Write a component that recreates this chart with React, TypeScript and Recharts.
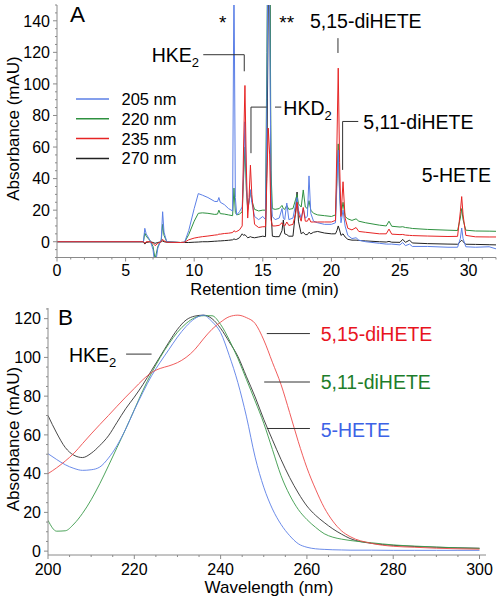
import React from 'react';
import { LineChart, Line, XAxis, YAxis, ReferenceLine } from 'recharts';

// Panel A: HPLC trace, retention time (min) vs absorbance (mAU)
const retentionTimes = [
  0, 6.3, 6.4, 6.5, 6.8, 7.0, 7.15, 7.35, 7.6, 7.7,
  7.8, 8.0, 9.0, 9.3, 9.6, 10.0, 10.3, 10.6, 11.0, 11.5,
  11.7, 11.8, 11.9, 12.2, 12.5, 12.8, 12.9, 13.0, 13.1, 13.3,
  13.5, 13.6, 13.7, 13.8, 13.9, 14.0, 14.1, 14.2, 14.4, 14.7,
  15.0, 15.2, 15.3, 15.4, 15.5, 15.6, 15.7, 15.9, 16.2, 16.4,
  16.5, 16.6, 16.75, 16.9, 17.2, 17.4, 17.5, 17.6, 17.8, 17.95,
  18.1, 18.25, 18.37, 18.5, 18.7, 19.0, 19.5, 20.0, 20.3, 20.4,
  20.5, 20.6, 20.7, 20.85, 21.0, 21.2, 21.5, 21.8, 22.0, 22.5,
  23.5, 24.0, 24.2, 24.4, 25.0, 25.2, 25.4, 25.7, 25.9, 27.0,
  28.5, 29.2, 29.4, 29.5, 29.6, 29.8, 30.5, 31.5, 32,
];
const abs205 = [
  0, 0, 8.5, 5, 0.5, -5, -16, -4, 1.5, 19,
  6, 0, -0.5, -0.3, 7, 21, 30.5, 29.5, 28, 25.5,
  25.5, 28, 25, 23.5, 21, 19.5, 170, 28, 17, 19,
  22, 45, 76, 38, 20, 25, 33, 25, 16, 14,
  16, 14, 90, 220, 150, 30, 16, 14, 15, 21,
  15, 14, 24.5, 14, 15, 24, 28, 20, 15, 21,
  15, 16, 41.7, 18, 13, 12, 11, 11, 12, 35,
  58, 30, 12, 20, 10, 4, 2, 2.5, 1, 0,
  -1, -1.5, -1.5, -1.5, -2, -0.5, -2.5, -1.5, -3, -3,
  -3.5, -3.5, 2, 8.7, 2, -3.2, -3.5, -3.2, -4.5,
];
const abs220 = [
  0, 0, 5.5, 3.5, 0.5, -3, -11, -3, 1, 11,
  4, 0, -0.5, -0.3, 4.5, 13, 18, 18.3, 18, 17.3,
  17.5, 20, 17.8, 17.5, 17, 16.5, 34, 18.5, 17, 17.5,
  19, 40, 60, 33, 21, 26, 32, 26, 20.5, 19.5,
  20, 20, 120, 240, 220, 45, 21, 20.5, 21, 23,
  21, 20.5, 23, 20.5, 21, 27, 30, 24, 22, 32.8,
  22, 21, 26, 20, 18, 17, 16.5, 16, 17, 40,
  62, 32, 17, 25, 16, 14.5, 13.5, 14.5, 13, 12,
  10.5, 10, 13, 9.8, 9.3, 9.5, 9, 8.7, 8.4, 7.8,
  7.3, 7.1, 15, 21, 14, 7.3, 6.8, 6.7, 6.6,
];
const abs235 = [
  0, 0, -1, 0, 0, -1, -2.5, -1, 0, 1.5,
  0.5, -0.3, -0.5, -0.3, 1.2, 2.3, 2.8, 3.2, 3.6, 4.2,
  4.4, 4.8, 4.8, 5.2, 5.4, 5.8, 7, 6.3, 6.5, 7.5,
  10, 60, 99, 48, 15, 28, 48.5, 30, 11, 9,
  9.5, 9.5, 40, 72, 55, 14, 10, 10, 10.4, 12,
  10.5, 10, 12.5, 10.3, 11, 18, 25, 18, 13, 21.7,
  13, 13, 15, 12.5, 12.5, 12.5, 12.5, 12.5, 13.5, 60,
  110, 50, 16, 38, 15, 8.5, 7.5, 9, 6.5, 6,
  5, 5, 8, 4.8, 4.5, 4.6, 4.2, 4, 3.9, 3.6,
  3.3, 3.4, 19, 28.6, 17, 4, 3.1, 3, 3,
];
const abs270 = [
  0, 0, -1.5, -0.5, 0, -0.5, -1, -0.5, 0, 0.5,
  0, -0.3, -0.5, -0.5, -0.5, -0.3, -0.2, 0, 0, 0.3,
  0.4, 0.5, 0.5, 0.7, 0.9, 1.2, 1.8, 1.4, 1.5, 2.5,
  5, 4, 4.5, 3.5, 2.5, 2.8, 3.2, 2.8, 2.5, 3,
  3.5, 3.2, 50, 150, 200, 20, 3.5, 3.2, 3.2, 7,
  13.8, 5, 4.5, 3.5, 3.5, 20, 31.5, 13, 5, 6,
  4.5, 4.5, 6, 5, 6, 6.5, 5.5, 5, 5, 7,
  10, 7.4, 4, 5, 3, 1.5, 1, 1, 0.8, 0.5,
  0, -0.2, 0.2, -0.3, -0.4, 1.5, -0.4, 1, -0.8, -1.2,
  -1.5, -1.6, 0, 1, 0, -1.6, -1.7, -1.9, -2,
];

// Panel B: UV spectra, wavelength (nm) vs absorbance (mAU)
const wavelengths = [
  200, 202, 204, 206, 208, 210, 212, 214, 216, 218,
  220, 222, 224, 226, 228, 230, 232, 234, 236, 238,
  240, 242, 244, 246, 248, 250, 252, 254, 256, 258,
  260, 262, 264, 266, 268, 270, 275, 280, 285, 290, 295, 300,
];
const spectrumHKE2 = [
  70, 61, 53.5, 49.5, 48.3, 50.5, 54.5, 59.5, 66.5, 73.5,
  79.5, 86, 93.3, 100.5, 107.8, 114.5, 119.3, 121.3, 121.8, 120,
  115, 108, 100.5, 90, 79.6, 68, 57.5, 47.3, 38, 30,
  23.3, 18.5, 14.8, 11.5, 8.8, 6.5, 4, 3, 2.4, 2, 1.7, 1.5,
];
const spectrum515 = [
  40, 43, 46.5, 50.5, 55.5, 60.5, 65.3, 70, 74.8, 79.5,
  84, 88.5, 92.2, 94.3, 95.6, 97.3, 100, 104, 109.5, 114.5,
  118.2, 121, 121.8, 120.5, 117.5, 109, 97.5, 86, 71.5, 56.5,
  43, 32, 22.5, 15.5, 10.5, 7.5, 4, 2.5, 2, 1.5, 1.2, 1,
];
const spectrum511 = [
  15.9, 10.3, 10.5, 14, 19.5, 26.5, 34.8, 44, 53.5, 63,
  73, 83, 92, 100, 107, 113, 117.5, 120.5, 121.5, 121.5,
  117, 109, 99.5, 88.5, 77.5, 66, 52.5, 39, 29, 21.5,
  16.3, 12.3, 9, 7.2, 6.2, 5.5, 4.3, 3.2, 2.6, 2.1, 1.7, 1.4,
];
const spectrum5 = [
  50.3, 47.3, 44.6, 42.7, 41.7, 42, 43.4, 48, 54.5, 63,
  72.8, 82, 90.5, 97.5, 104, 110.5, 116, 120, 121.8, 118.5,
  112.8, 101, 87, 69.3, 48.5, 33, 21.8, 13.8, 8, 3.8,
  2, 1.2, 0.9, 0.7, 0.6, 0.5, 0.5, 0.4, 0.4, 0.4, 0.4, 0.4,
];

const timeTicks = [0, 5, 10, 15, 20, 25, 30];
const absTicksA = [0, 20, 40, 60, 80, 100, 120, 140];
const waveTicks = [200, 220, 240, 260, 280, 300];
const absTicksB = [0, 20, 40, 60, 80, 100, 120];

const AXIS = '#8a8a8a';
const LEADER = '#333333';
const FONT = '"Liberation Sans", Arial, Helvetica, sans-serif';

const steps = (from: number, to: number, step: number) => {
  const out: number[] = [];
  for (let v = from; v <= to + 1e-9; v += step) out.push(Math.round(v * 100) / 100);
  return out;
};

const chromSeries = [
  { key: 'nm205', name: '205 nm', color: '#5b7fe6', values: abs205 },
  { key: 'nm220', name: '220 nm', color: '#2e9140', values: abs220 },
  { key: 'nm235', name: '235 nm', color: '#e62424', values: abs235 },
  { key: 'nm270', name: '270 nm', color: '#222222', values: abs270 },
];
const drawOrderA = ['nm270', 'nm220', 'nm205', 'nm235'];

const spectra = [
  { key: 'hke2', color: '#333333', values: spectrumHKE2 },
  { key: 'h511', color: '#3a9a4a', values: spectrum511 },
  { key: 'h5', color: '#5b7fe6', values: spectrum5 },
  { key: 'h515', color: '#ee4a4a', values: spectrum515 },
];

const chromData = retentionTimes.map((t, i) => {
  const row: Record<string, number> = { t };
  chromSeries.forEach((s) => { row[s.key] = s.values[i]; });
  return row;
});
const specData = wavelengths.map((w, i) => {
  const row: Record<string, number> = { w };
  spectra.forEach((s) => { row[s.key] = s.values[i]; });
  return row;
});

// leader lines, in data units
const leadersA: [number, number, number, number][] = [
  [10.66, 118.5, 13.65, 118.5],
  [13.65, 118.5, 13.65, 108],
  [14.14, 85.3, 15.28, 85.3],
  [15.89, 85.3, 16.35, 85.3],
  [14.14, 85.3, 14.14, 56.1],
  [20.48, 129, 20.48, 119.6],
  [20.82, 76.2, 21.96, 76.2],
  [20.82, 76.2, 20.82, 45.5],
];
const leadersB: [number, number, number, number][] = [
  [218.1, 101.7, 224, 101.7],
  [250.7, 112.3, 260.7, 112.3],
  [250.1, 87.3, 260.7, 87.3],
  [250.7, 63.3, 260.7, 63.3],
];

function YTick({ x, y, payload, labels }: any) {
  const major = labels.includes(payload.value);
  return (
    <g>
      <line x1={x} x2={x - (major ? 4 : 2)} y1={y} y2={y} stroke={AXIS} />
      {major && (
        <text x={x - 7} y={y + 5.8} textAnchor="end" fontSize={16} fill="#000">{payload.value}</text>
      )}
    </g>
  );
}

function XTick({ x, y, payload, labels, labelDy }: any) {
  const major = labels.includes(payload.value);
  return (
    <g>
      <line x1={x} x2={x} y1={y} y2={y + (major ? 4 : 2)} stroke={AXIS} />
      {major && (
        <text x={x} y={y + labelDy} textAnchor="middle" fontSize={16} fill="#000">{payload.value}</text>
      )}
    </g>
  );
}

const seg = (s: [number, number, number, number], i: number) => (
  <ReferenceLine
    key={i}
    segment={[{ x: s[0], y: s[1] }, { x: s[2], y: s[3] }]}
    stroke={LEADER}
    strokeWidth={1}
  />
);

export default function App() {
  return (
    <div style={{ position: 'fixed', left: 0, top: 0, width: 499, height: 600, background: '#fff', fontFamily: FONT }}>
      <div style={{ position: 'absolute', left: 0, top: 0 }}>
        <LineChart width={499} height={290} data={chromData} margin={{ top: 5, right: 3, bottom: 0, left: 0 }}>
          <XAxis
            dataKey="t" type="number" domain={[0, 32]} allowDataOverflow
            ticks={steps(0, 32, 1)} interval={0} tickSize={0} tickMargin={0} tickLine={false}
            stroke={AXIS} height={32.5} tick={<XTick labels={timeTicks} labelDy={18} />}
          />
          <YAxis
            type="number" domain={[-10, 150]} allowDataOverflow
            ticks={steps(-10, 150, 5)} interval={0} tickSize={0} tickMargin={0} tickLine={false}
            stroke={AXIS} width={57} tick={<YTick labels={absTicksA} />}
          />
          {drawOrderA.map((k) => {
            const s = chromSeries.find((c) => c.key === k)!;
            return (
              <Line key={k} dataKey={k} type="linear" stroke={s.color} strokeWidth={1}
                dot={false} activeDot={false} isAnimationActive={false} />
            );
          })}
          {leadersA.map(seg)}
        </LineChart>
      </div>

      <div style={{ position: 'absolute', left: 0, top: 290 }}>
        <LineChart width={499} height={310} data={specData} margin={{ top: 18, right: 13, bottom: 0, left: 0 }}>
          <XAxis
            dataKey="w" type="number" domain={[200, 301.5]} allowDataOverflow
            ticks={steps(200, 300, 5)} interval={0} tickSize={0} tickMargin={0} tickLine={false}
            stroke={AXIS} height={45} tick={<XTick labels={waveTicks} labelDy={19.5} />}
          />
          <YAxis
            type="number" domain={[-2, 125.5]} allowDataOverflow
            ticks={steps(0, 125, 5)} interval={0} tickSize={0} tickMargin={0} tickLine={false}
            stroke={AXIS} width={48} tick={<YTick labels={absTicksB} />}
          />
          {spectra.map((s) => (
            <Line key={s.key} dataKey={s.key} type="monotone" stroke={s.color} strokeWidth={0.9}
              dot={false} activeDot={false} isAnimationActive={false} />
          ))}
          {leadersB.map(seg)}
        </LineChart>
      </div>

      <svg width={499} height={600} style={{ position: 'absolute', left: 0, top: 0, pointerEvents: 'none' }}>
        {/* panel A */}
        <text x={70} y={22} fontSize={22.5}>A</text>
        <text x={222.7} y={28.5} fontSize={19} textAnchor="middle">*</text>
        <text x={286.7} y={28.5} fontSize={19} textAnchor="middle">**</text>
        <text x={310} y={27.5} fontSize={19.5}>5,15-diHETE</text>
        <text x={151.7} y={62} fontSize={19.5}>HKE<tspan fontSize={13} dy={5}>2</tspan></text>
        <text x={283.3} y={115} fontSize={19.5}>HKD<tspan fontSize={13} dy={5}>2</tspan></text>
        <text x={363.3} y={128.5} fontSize={19.5}>5,11-diHETE</text>
        <text x={421.7} y={182} fontSize={19.5}>5-HETE</text>
        {chromSeries.map((s, i) => {
          const cy = 99 + i * 19.8;
          return (
            <g key={s.key}>
              <line x1={76} x2={109} y1={cy} y2={cy} stroke={s.color} strokeWidth={1.5} />
              <text x={121.5} y={cy + 5.9} fontSize={16.5}>{s.name}</text>
            </g>
          );
        })}
        <text transform="translate(18.5,128.5) rotate(-90)" textAnchor="middle" fontSize={17}>Absorbance (mAU)</text>
        <text x={264.5} y={295} textAnchor="middle" fontSize={16.5}>Retention time (min)</text>

        {/* panel B */}
        <text x={58} y={325} fontSize={22.5}>B</text>
        <text x={69} y={362} fontSize={19.5}>HKE<tspan fontSize={13} dy={5}>2</tspan></text>
        <text x={320.7} y={340.5} fontSize={19.5} fill="#e8141e">5,15-diHETE</text>
        <text x={320.7} y={389} fontSize={19.5} fill="#1d7d2a">5,11-diHETE</text>
        <text x={320.7} y={436.5} fontSize={19.5} fill="#3c62e6">5-HETE</text>
        <text transform="translate(18.5,439) rotate(-90)" textAnchor="middle" fontSize={17}>Absorbance (mAU)</text>
        <text x={269} y={593} textAnchor="middle" fontSize={17}>Wavelength (nm)</text>
      </svg>
    </div>
  );
}
